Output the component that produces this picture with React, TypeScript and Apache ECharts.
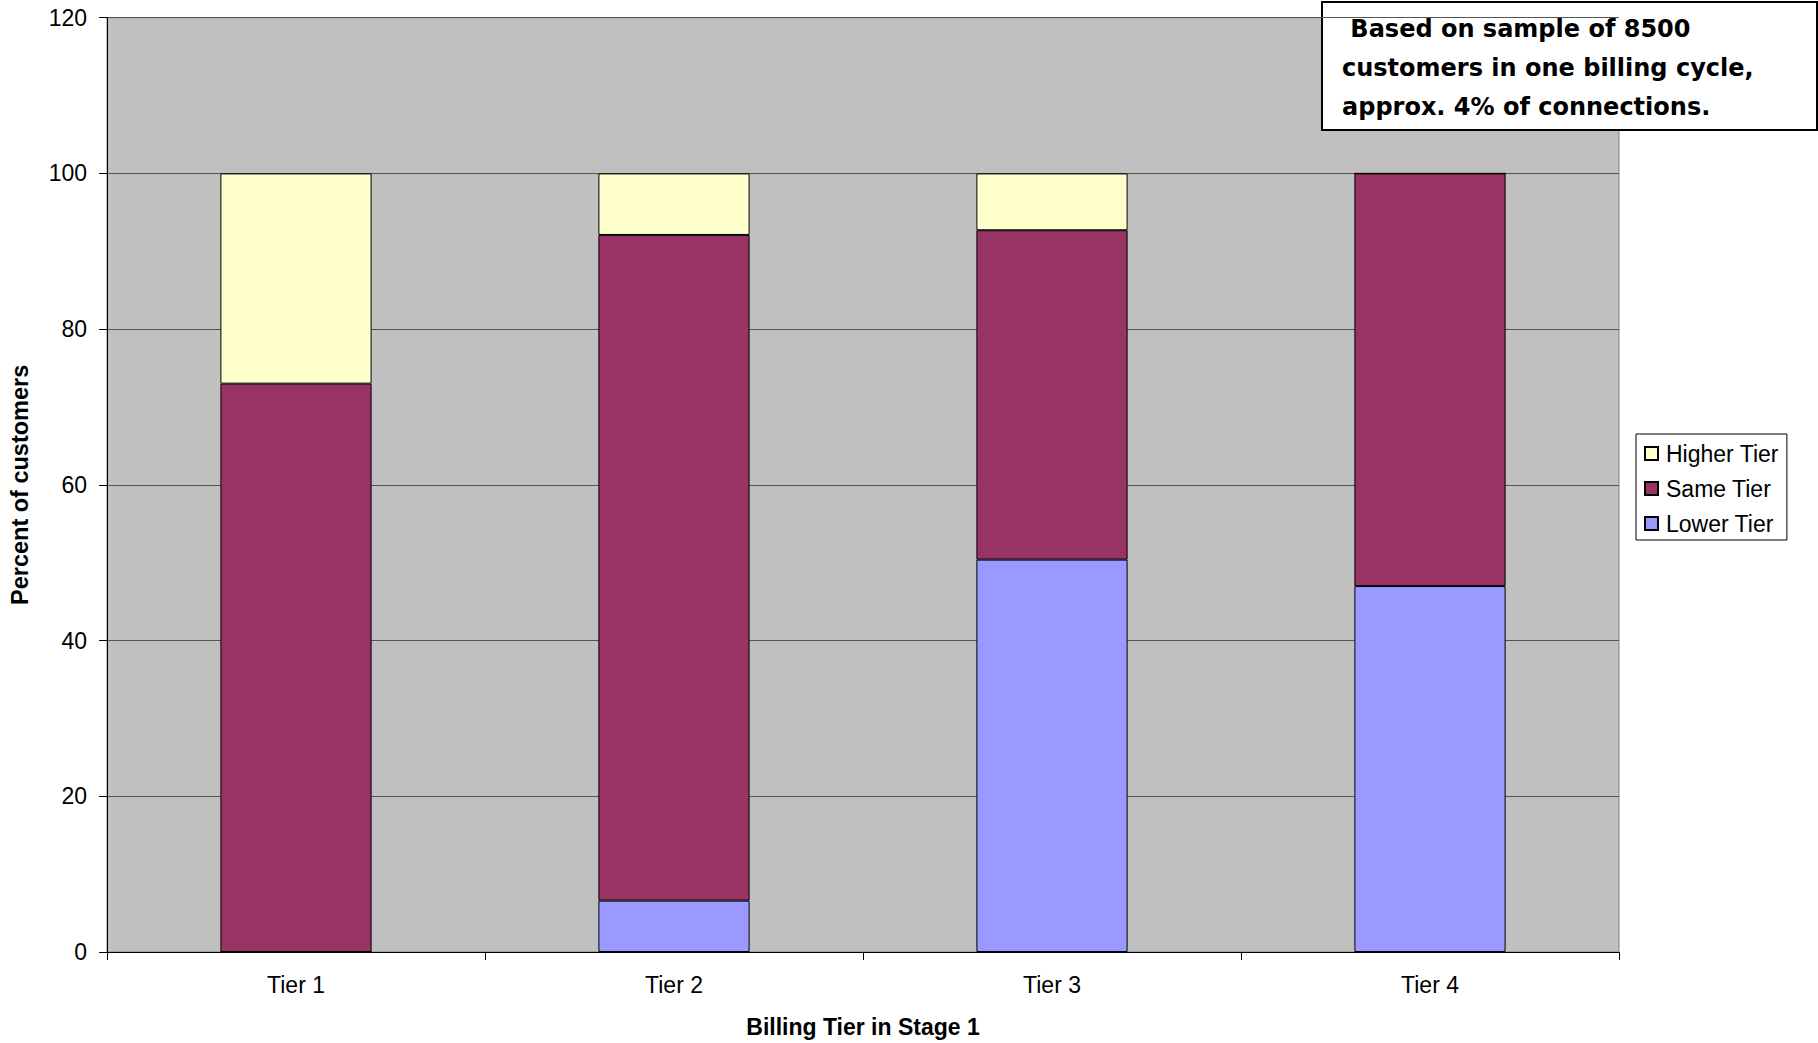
import React, { useEffect, useRef } from "react";
import * as echarts from "echarts";

const categories = ["Tier 1", "Tier 2", "Tier 3", "Tier 4"];
const lowerTier = [0, 6.6, 50.4, 47.0];
const sameTier = [73.0, 85.5, 42.3, 53.0];
const higherTier = [27.0, 7.9, 7.3, 0];
const noteLines = [" Based on sample of 8500", "customers in one billing cycle,", "approx. 4% of connections."];

export default function App() {
  const ref = useRef<HTMLDivElement>(null);
  useEffect(() => {
    document.body.style.margin = "0";
    const chart = echarts.init(ref.current!, null, { renderer: "svg" });
    const font = "Liberation Sans, Arial, sans-serif";
    const barStyle = (color: string) => ({ color, borderColor: "#000", borderWidth: 1 });
    chart.setOption({
      animation: false,
      backgroundColor: "#fff",
      textStyle: { fontFamily: font, color: "#000" },
      grid: {
        left: 107,
        right: 199,
        top: 17.7,
        bottom: 86.3,
        show: true,
        backgroundColor: "#C0C0C0",
        borderColor: "#808080",
        borderWidth: 1,
      },
      legend: {
        orient: "vertical",
        left: 1636,
        top: 434,
        data: ["Higher Tier", "Same Tier", "Lower Tier"],
        icon: "rect",
        itemWidth: 13,
        itemHeight: 13,
        itemGap: 12,
        borderColor: "#000",
        borderWidth: 1,
        backgroundColor: "#fff",
        padding: [8, 8, 5, 8],
        textStyle: { fontSize: 23, fontFamily: font, color: "#000", padding: [0, 0, 0, 3] },
        selectedMode: false,
      },
      xAxis: {
        type: "category",
        data: categories,
        name: "Billing Tier in Stage 1",
        nameLocation: "middle",
        nameGap: 63,
        nameTextStyle: { fontSize: 23, fontWeight: "bold", fontFamily: font, color: "#000" },
        axisLine: { lineStyle: { color: "#000", width: 1 } },
        axisTick: { show: true, length: 8, lineStyle: { color: "#000" } },
        axisLabel: { fontSize: 23, color: "#000", margin: 21, fontFamily: font },
        splitLine: { show: false },
      },
      yAxis: {
        type: "value",
        min: 0,
        max: 120,
        interval: 20,
        name: "Percent of customers",
        nameLocation: "middle",
        nameGap: 75,
        nameTextStyle: { fontSize: 23.5, fontWeight: "bold", fontFamily: font, color: "#000" },
        axisLine: { show: true, lineStyle: { color: "#000", width: 1 } },
        axisTick: { show: true, length: 8, lineStyle: { color: "#000" } },
        axisLabel: { fontSize: 23, color: "#000", margin: 20, fontFamily: font },
        splitLine: { show: true, lineStyle: { color: "#555", width: 1.2 } },
      },
      series: [
        {
          name: "Lower Tier",
          type: "bar",
          stack: "total",
          data: lowerTier,
          barCategoryGap: "60%",
          itemStyle: barStyle("#9999FF"),
        },
        {
          name: "Same Tier",
          type: "bar",
          stack: "total",
          data: sameTier,
          barCategoryGap: "60%",
          itemStyle: barStyle("#993366"),
        },
        {
          name: "Higher Tier",
          type: "bar",
          stack: "total",
          data: higherTier,
          barCategoryGap: "60%",
          itemStyle: barStyle("#FFFFCC"),
        },
      ],
      graphic: [
        {
          type: "group",
          left: 1321,
          top: 1,
          children: [
            {
              type: "rect",
              shape: { x: 0, y: 0, width: 495, height: 128 },
              style: { fill: "#fff", stroke: "#000", lineWidth: 2 },
            },
            {
              type: "text",
              x: 20,
              y: 7,
              style: {
                text: noteLines.join("\n"),
                font: "bold 24px DejaVu Sans, sans-serif",
                lineHeight: 39,
                fill: "#000",
              },
            },
          ],
        },
      ],
    });
    return () => chart.dispose();
  }, []);
  return (
    <div
      ref={ref}
      style={{ position: "absolute", left: 0, top: 0, width: 1818, height: 1043 }}
    />
  );
}
